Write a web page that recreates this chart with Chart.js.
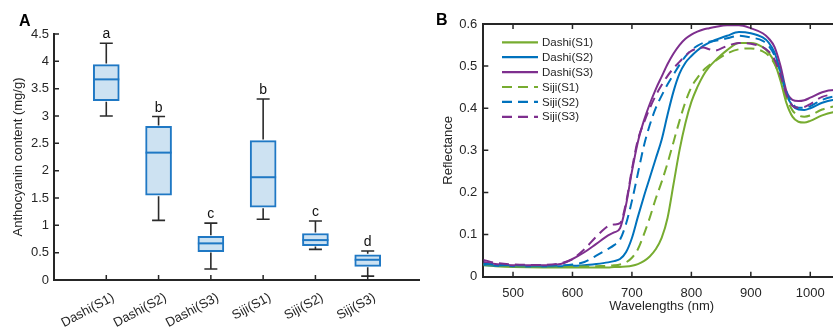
<!DOCTYPE html>
<html>
<head>
<meta charset="utf-8">
<script src="https://cdn.jsdelivr.net/npm/chart.js@4.4.1/dist/chart.umd.min.js"></script>
<style>
  html, body { margin: 0; padding: 0; background: #fff; }
  body { width: 833px; height: 327px; overflow: hidden; position: relative; }
  #ca { position: absolute; left: 0; top: 0; }
  #cb { position: absolute; left: 420px; top: 0; }
</style>
</head>
<body>
<canvas id="ca" width="420" height="327"></canvas>
<canvas id="cb" width="420" height="327"></canvas>
<script>
// ---------------- Panel A data ----------------
const categories = ['Dashi(S1)', 'Dashi(S2)', 'Dashi(S3)', 'Siji(S1)', 'Siji(S2)', 'Siji(S3)'];
const whiskerMin = [3.00, 1.09, 0.20, 1.11, 0.56, 0.07];
const q1         = [3.28, 1.55, 0.52, 1.33, 0.63, 0.25];
const medians    = [3.67, 2.33, 0.67, 1.88, 0.73, 0.37];
const q3         = [3.94, 2.81, 0.80, 2.55, 0.85, 0.46];
const whiskerMax = [4.33, 2.99, 1.04, 3.31, 1.08, 0.53];
const groupLetters = ['a', 'b', 'c', 'b', 'c', 'd'];
const yTicksA = [0, 0.5, 1, 1.5, 2, 2.5, 3, 3.5, 4, 4.5];

// ---------------- Panel B data ----------------
const wavelengths = [450,470,500,550,580,600,620,640,660,670,680,690,700,710,720,730,740,750,760,770,780,790,800,810,820,830,840,860,880,900,920,930,940,950,960,970,980,990,1000,1020,1040,1050];
const dashiS1 = [.027,.025,.023,.022,.022,.022,.022,.022,.022,.023,.023,.024,.026,.030,.037,.048,.065,.092,.140,.220,.300,.365,.415,.450,.478,.498,.513,.538,.555,.555,.545,.532,.508,.465,.412,.380,.368,.366,.370,.383,.391,.393];
const dashiS2 = [.028,.026,.025,.024,.025,.026,.027,.030,.034,.037,.042,.058,.092,.142,.190,.235,.280,.325,.385,.440,.482,.508,.524,.537,.548,.556,.562,.572,.581,.578,.568,.556,.532,.485,.432,.406,.397,.396,.400,.413,.420,.421];
const dashiS3 = [.035,.030,.027,.027,.030,.042,.058,.078,.098,.105,.115,.170,.250,.320,.370,.410,.445,.475,.505,.530,.550,.565,.575,.582,.587,.590,.593,.597,.597,.590,.578,.566,.545,.500,.440,.420,.417,.419,.425,.438,.443,.443];
const sijiS1  = [.030,.027,.025,.024,.024,.024,.024,.025,.026,.027,.029,.034,.045,.065,.100,.140,.185,.225,.270,.320,.370,.415,.450,.472,.490,.502,.512,.530,.540,.542,.535,.525,.505,.470,.425,.395,.383,.380,.383,.397,.404,.405];
const sijiS2  = [.031,.028,.027,.026,.027,.029,.035,.050,.066,.075,.088,.125,.180,.245,.310,.360,.400,.430,.457,.480,.503,.523,.538,.548,.555,.558,.560,.566,.572,.568,.560,.548,.525,.485,.438,.410,.401,.401,.405,.420,.428,.429];
const sijiS3  = [.040,.033,.029,.028,.032,.042,.065,.095,.120,.124,.127,.175,.255,.325,.365,.400,.430,.455,.477,.495,.510,.525,.536,.542,.544,.540,.537,.548,.555,.553,.545,.535,.515,.478,.432,.406,.401,.403,.410,.427,.432,.432];
const seriesNames = ['Dashi(S1)', 'Dashi(S2)', 'Dashi(S3)', 'Siji(S1)', 'Siji(S2)', 'Siji(S3)'];
const seriesValues = [dashiS1, dashiS2, dashiS3, sijiS1, sijiS2, sijiS3];
const xTicksB = [500, 600, 700, 800, 900, 1000];
const yTicksB = [0, 0.1, 0.2, 0.3, 0.4, 0.5, 0.6];

// ---------------- Styles ----------------
const FONT = '"Liberation Sans", Arial, Helvetica, sans-serif';
const TEXT = '#262626';
const AXIS = '#262626';
const GREEN = '#77AC30', BLUE = '#0072BD', PURPLE = '#7E2F8E';
const seriesColors = [GREEN, BLUE, PURPLE, GREEN, BLUE, PURPLE];
const seriesDashed = [false, false, false, true, true, true];
const BOX_EDGE = '#1f78c4';
const BOX_FILL = '#cde2f2';

Chart.defaults.font.family = FONT;
Chart.defaults.color = TEXT;

// inward tick marks, extra frame, panel letter
const frameTicks = {
  id: 'frameTicks',
  afterDraw(chart, args, o) {
    const { ctx, chartArea: { left, right, top, bottom }, scales: { x, y } } = chart;
    ctx.save();
    ctx.strokeStyle = AXIS;
    ctx.lineWidth = o.width;
    ctx.beginPath();
    for (const v of o.yTicks) {
      const p = y.getPixelForValue(v);
      ctx.moveTo(left, p); ctx.lineTo(left + o.len, p);
    }
    for (const v of o.xTicks) {
      const p = x.getPixelForValue(v);
      ctx.moveTo(p, bottom); ctx.lineTo(p, bottom - o.len);
      if (o.top) { ctx.moveTo(p, top); ctx.lineTo(p, top + o.len); }
    }
    ctx.stroke();
    if (o.top) {
      ctx.lineWidth = 2;
      ctx.beginPath();
      ctx.moveTo(left - 1, top); ctx.lineTo(right + 1, top);
      ctx.stroke();
    }
    ctx.fillStyle = '#000';
    ctx.font = 'bold 16px ' + FONT;
    ctx.textAlign = 'left';
    ctx.textBaseline = 'alphabetic';
    ctx.fillText(o.letter, o.lx, o.ly);
    ctx.restore();
  }
};

// whiskers, medians and group letters for the box plot
const boxParts = {
  id: 'boxParts',
  afterDatasetsDraw(chart) {
    const { ctx, scales: { x, y } } = chart;
    const meta = chart.getDatasetMeta(0);
    ctx.save();
    categories.forEach((c, i) => {
      const bar = meta.data[i];
      const cx = x.getPixelForValue(i + 1);
      const half = bar.width / 2;
      // whiskers
      ctx.strokeStyle = '#2b2b2b';
      ctx.lineWidth = 1.6;
      ctx.beginPath();
      ctx.moveTo(cx, y.getPixelForValue(q3[i]) - 1); ctx.lineTo(cx, y.getPixelForValue(whiskerMax[i]));
      ctx.moveTo(cx, y.getPixelForValue(q1[i]) + 1); ctx.lineTo(cx, y.getPixelForValue(whiskerMin[i]));
      ctx.moveTo(cx - 6.5, y.getPixelForValue(whiskerMax[i])); ctx.lineTo(cx + 6.5, y.getPixelForValue(whiskerMax[i]));
      ctx.moveTo(cx - 6.5, y.getPixelForValue(whiskerMin[i])); ctx.lineTo(cx + 6.5, y.getPixelForValue(whiskerMin[i]));
      ctx.stroke();
      // median
      ctx.strokeStyle = BOX_EDGE;
      ctx.lineWidth = 2;
      ctx.beginPath();
      const my = y.getPixelForValue(medians[i]);
      ctx.moveTo(cx - half, my); ctx.lineTo(cx + half, my);
      ctx.stroke();
      // letter
      ctx.fillStyle = '#111';
      ctx.font = '14px ' + FONT;
      ctx.textAlign = 'center';
      ctx.textBaseline = 'alphabetic';
      ctx.fillText(groupLetters[i], cx, y.getPixelForValue(whiskerMax[i]) - 5);
    });
    ctx.restore();
  }
};

// legend drawn inside plot area
const insideLegend = {
  id: 'insideLegend',
  afterDraw(chart, args, o) {
    const { ctx } = chart;
    ctx.save();
    chart.data.datasets.forEach((ds, i) => {
      const yy = o.y0 + i * o.dy;
      ctx.strokeStyle = ds.borderColor;
      ctx.lineWidth = 2.2;
      ctx.setLineDash(ds.borderDash || []);
      ctx.beginPath();
      ctx.moveTo(o.x0, yy); ctx.lineTo(o.x0 + o.len, yy);
      ctx.stroke();
      ctx.setLineDash([]);
      ctx.fillStyle = TEXT;
      ctx.font = '11.5px ' + FONT;
      ctx.textAlign = 'left';
      ctx.textBaseline = 'middle';
      ctx.fillText(ds.label, o.x0 + o.len + 4, yy + 0.5);
    });
    ctx.restore();
  }
};

// ---------------- Panel A ----------------
new Chart(document.getElementById('ca'), {
  type: 'bar',
  data: {
    datasets: [{
      data: categories.map((c, i) => ({ x: i + 1, y: [q1[i], q3[i]] })),
      backgroundColor: BOX_FILL,
      borderColor: BOX_EDGE,
      borderWidth: 2,
      borderSkipped: false,
      barThickness: 26
    }]
  },
  options: {
    responsive: false,
    animation: false,
    layout: { padding: { top: 34, left: 0, right: 0, bottom: 0 } },
    plugins: {
      legend: { display: false },
      tooltip: { enabled: false },
      frameTicks: { yTicks: yTicksA, xTicks: [1, 2, 3, 4, 5, 6], len: 5, width: 1.5, top: false, letter: 'A', lx: 19, ly: 26 }
    },
    scales: {
      x: {
        type: 'linear', min: 0, max: 7, offset: false,
        afterBuildTicks: s => { s.ticks = categories.map((c, i) => ({ value: i + 1 })); },
        afterFit: s => { s.height = 47; },
        grid: { display: false, drawTicks: false, offset: false },
        border: { display: true, color: AXIS, width: 2 },
        ticks: {
          autoSkip: false, minRotation: 28, maxRotation: 28, padding: 10, labelOffset: 7,
          color: TEXT, font: { size: 13 },
          callback: v => categories[v - 1]
        }
      },
      y: {
        min: 0, max: 4.5,
        afterBuildTicks: s => { s.ticks = yTicksA.map(v => ({ value: v })); },
        afterFit: s => { s.width = 54; },
        grid: { display: false, drawTicks: false },
        border: { display: true, color: AXIS, width: 2 },
        ticks: { padding: 5, color: TEXT, font: { size: 13 }, callback: v => String(v) },
        title: { display: true, text: 'Anthocyanin content (mg/g)', color: TEXT, font: { size: 13 }, padding: { top: 11, bottom: 0 } }
      }
    }
  },
  plugins: [boxParts, frameTicks]
});

// ---------------- Panel B ----------------
new Chart(document.getElementById('cb'), {
  type: 'line',
  data: {
    datasets: seriesNames.map((name, i) => ({
      label: name,
      data: wavelengths.map((w, k) => ({ x: w, y: seriesValues[i][k] })),
      borderColor: seriesColors[i],
      borderWidth: 2,
      borderDash: seriesDashed[i] ? [10, 6] : [],
      pointRadius: 0,
      cubicInterpolationMode: 'monotone',
      fill: false,
      order: 6 - i
    }))
  },
  options: {
    responsive: false,
    animation: false,
    layout: { padding: { top: 24, left: 0, right: 0, bottom: 0 } },
    plugins: {
      legend: { display: false },
      tooltip: { enabled: false },
      frameTicks: { yTicks: yTicksB, xTicks: xTicksB, len: 5, width: 1.5, top: true, letter: 'B', lx: 16, ly: 25 },
      insideLegend: { x0: 82, y0: 42.3, dy: 14.9, len: 36 }
    },
    scales: {
      x: {
        type: 'linear', min: 450, max: 1050,
        afterBuildTicks: s => { s.ticks = xTicksB.map(v => ({ value: v })); },
        afterFit: s => { s.height = 50.3; },
        grid: { display: false, drawTicks: false },
        border: { display: true, color: AXIS, width: 2 },
        ticks: { padding: 9, color: TEXT, font: { size: 13 }, maxRotation: 0, callback: v => String(v) },
        title: { display: true, text: 'Wavelengths (nm)', color: TEXT, font: { size: 13 }, padding: { top: 0, bottom: 12.5 } }
      },
      y: {
        min: 0, max: 0.6,
        afterBuildTicks: s => { s.ticks = yTicksB.map(v => ({ value: v })); },
        afterFit: s => { s.width = 63.3; },
        grid: { display: false, drawTicks: false },
        border: { display: true, color: AXIS, width: 2 },
        ticks: { padding: 6, color: TEXT, font: { size: 13 }, callback: v => String(Math.round(v * 10) / 10) },
        title: { display: true, text: 'Reflectance', color: TEXT, font: { size: 13 }, padding: { top: 20.5, bottom: 0 } }
      }
    }
  },
  plugins: [insideLegend, frameTicks]
});
</script>
</body>
</html>
